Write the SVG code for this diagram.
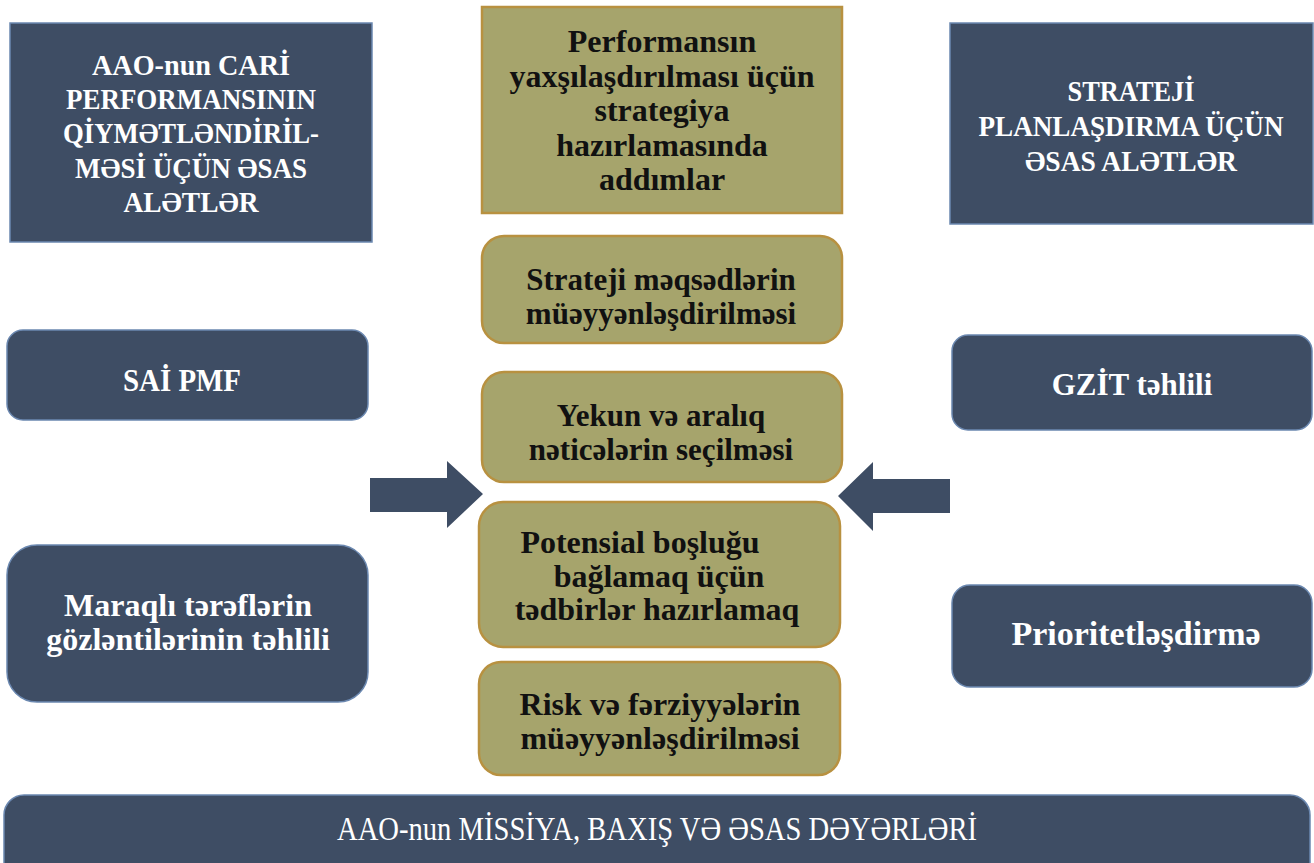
<svg xmlns="http://www.w3.org/2000/svg" width="1314" height="863" viewBox="0 0 1314 863">
<style>
.dark{fill:#3e4d64;stroke:#6b88b0;stroke-width:1.5}
.olive{fill:#a6a46c;stroke:#b89140;stroke-width:2.5}
.wt{fill:#ffffff;font-family:"Liberation Serif",serif;font-weight:bold;text-anchor:middle}
.bt{fill:#111111;font-family:"Liberation Serif",serif;font-weight:bold;text-anchor:middle;font-size:32px}
.arrow{fill:#3e4d64}
</style>
<rect width="1314" height="863" fill="#ffffff"/>
<g id="left-title">
<rect class="dark" x="10" y="23" width="362" height="219"/>
<text class="wt" font-size="30"><tspan x="191" y="75" textLength="198" lengthAdjust="spacingAndGlyphs">AAO-nun CARİ</tspan><tspan x="191" y="109" textLength="250" lengthAdjust="spacingAndGlyphs">PERFORMANSININ</tspan><tspan x="191" y="143" textLength="256" lengthAdjust="spacingAndGlyphs">QİYMƏTLƏNDİRİL-</tspan><tspan x="191" y="178" textLength="232" lengthAdjust="spacingAndGlyphs">MƏSİ ÜÇÜN ƏSAS</tspan><tspan x="191" y="212" textLength="135" lengthAdjust="spacingAndGlyphs">ALƏTLƏR</tspan></text>
</g>
<g id="center-title">
<rect class="olive" x="482" y="7" width="360" height="206"/>
<text class="bt"><tspan x="662" y="52">Performansın</tspan><tspan x="662" y="87">yaxşılaşdırılması üçün</tspan><tspan x="662" y="121">strategiya</tspan><tspan x="662" y="156">hazırlamasında</tspan><tspan x="662" y="190">addımlar</tspan></text>
</g>
<g id="right-title">
<rect class="dark" x="950" y="23" width="363" height="201"/>
<text class="wt" font-size="30"><tspan x="1131" y="101" textLength="127" lengthAdjust="spacingAndGlyphs">STRATEJİ</tspan><tspan x="1131" y="136" textLength="305" lengthAdjust="spacingAndGlyphs">PLANLAŞDIRMA ÜÇÜN</tspan><tspan x="1131" y="171" textLength="212" lengthAdjust="spacingAndGlyphs">ƏSAS ALƏTLƏR</tspan></text>
</g>
<g id="step1">
<rect class="olive" x="482" y="236" width="360" height="107" rx="22"/>
<text class="bt" font-size="31" style="font-size:31px"><tspan x="661" y="290">Strateji məqsədlərin</tspan><tspan x="661" y="324">müəyyənləşdirilməsi</tspan></text>
</g>
<g id="step2">
<rect class="olive" x="482" y="372" width="360" height="110" rx="22"/>
<text class="bt" style="font-size:31px"><tspan x="661" y="426">Yekun və aralıq</tspan><tspan x="661" y="460">nəticələrin seçilməsi</tspan></text>
</g>
<g id="step3">
<rect class="olive" x="479" y="502" width="361" height="145" rx="24"/>
<text class="bt"><tspan x="640" y="553">Potensial boşluğu</tspan><tspan x="659" y="587">bağlamaq üçün</tspan><tspan x="657" y="620">tədbirlər hazırlamaq</tspan></text>
</g>
<g id="step4">
<rect class="olive" x="479" y="662" width="361" height="113" rx="22"/>
<text class="bt"><tspan x="660" y="715">Risk və fərziyyələrin</tspan><tspan x="660" y="749">müəyyənləşdirilməsi</tspan></text>
</g>
<g id="sai-pmf">
<rect class="dark" x="7" y="330" width="361" height="90" rx="16"/>
<text class="wt" font-size="31" x="182" y="391" textLength="118" lengthAdjust="spacingAndGlyphs">SAİ PMF</text>
</g>
<g id="stakeholders">
<rect class="dark" x="7" y="545" width="361" height="157" rx="30"/>
<text class="wt" font-size="32"><tspan x="188" y="616">Maraqlı tərəflərin</tspan><tspan x="188" y="650">gözləntilərinin təhlili</tspan></text>
</g>
<g id="swot">
<rect class="dark" x="952" y="335" width="360" height="95" rx="16"/>
<text class="wt" font-size="31" x="1132" y="395">GZİT təhlili</text>
</g>
<g id="prioritization">
<rect class="dark" x="952" y="585" width="360" height="102" rx="18"/>
<text class="wt" font-size="34" x="1136" y="645">Prioritetləşdirmə</text>
</g>
<g id="mission">
<rect class="dark" x="4" y="795" width="1306" height="100" rx="20"/>
<text class="wt" font-size="34" x="657" y="840" textLength="640" lengthAdjust="spacingAndGlyphs" style="font-weight:normal">AAO-nun MİSSİYA, BAXIŞ VƏ ƏSAS DƏYƏRLƏRİ</text>
</g>
<g id="connectors">
<polygon class="arrow" points="370,478 447,478 447,461 483,494 447,528 447,512 370,512"/>
<polygon class="arrow" points="950,479 873,479 873,462 838,496 873,531 873,513 950,513"/>
</g>
</svg>
